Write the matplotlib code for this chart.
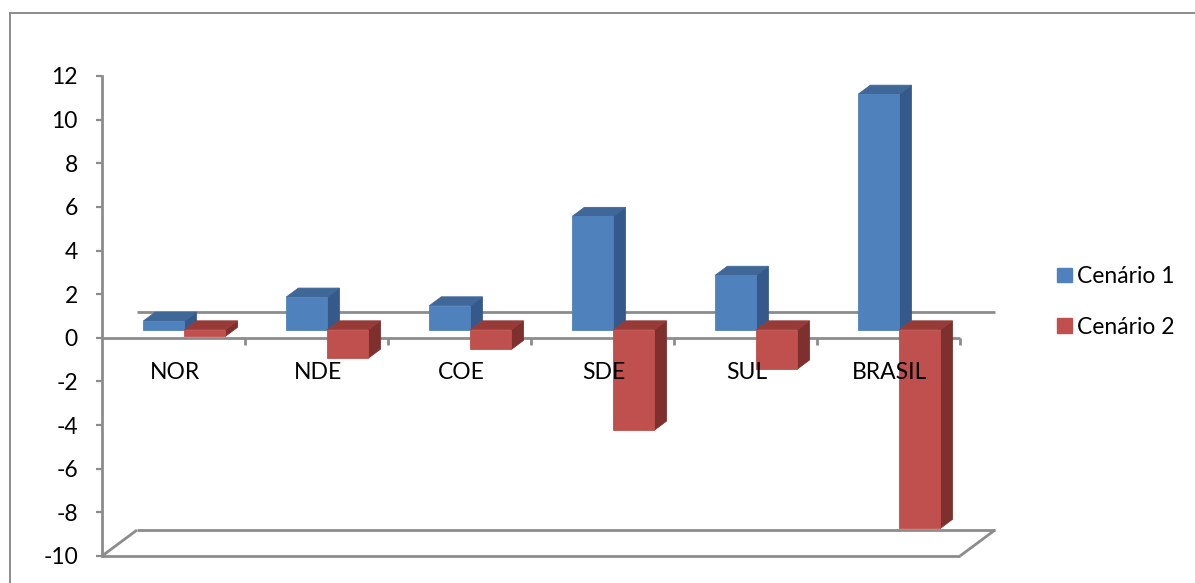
import matplotlib
matplotlib.use("Agg")
import matplotlib.pyplot as plt
from matplotlib.patches import Polygon, Patch
from matplotlib.lines import Line2D

plt.rcParams['font.family'] = ['Lato', 'DejaVu Sans']

categories = ["NOR", "NDE", "COE", "SDE", "SUL", "BRASIL"]
cenario1 = [0.4, 1.5, 1.1, 5.2, 2.5, 10.8]
cenario2 = [-0.3, -1.3, -0.9, -4.6, -1.8, -9.1]
series_names = ["Cenário 1", "Cenário 2"]
yticks = list(range(-10, 13, 2))

W, H = 1195, 583
fig = plt.figure(figsize=(W / 100, H / 100), dpi=100)
fig.patch.set_facecolor("white")

# front plane of the 3D box
ax = fig.add_axes([102 / W, (H - 556) / H, 858 / W, 480 / H])
n = len(categories)
ax.set_xlim(0, n)
ax.set_ylim(-10, 12)
ax.set_facecolor("none")

grey = "#8c8c8c"
fs = 16.5
for s in ["top", "right", "bottom"]:
    ax.spines[s].set_visible(False)
ax.spines["left"].set_color(grey)
ax.spines["left"].set_linewidth(2.0)
ax.set_xticks([])
ax.set_yticks(yticks)
ax.set_yticklabels([str(t) for t in yticks], fontsize=fs, color="black")
ax.tick_params(axis="y", direction="out", length=4.3, width=1.6, color=grey, pad=13)

# depth offsets (data units)
px_x = n / 858.0
px_y = 22.0 / 480.0
DX = 35 * px_x
DY = 26 * px_y
f0, f1 = 0.308, 0.654
a, b = f0 * DX, f0 * DY
c, d = f1 * DX, f1 * DY

lw = 2.0
kw = dict(color=grey, lw=lw, clip_on=False, solid_capstyle="butt", zorder=1)
# floor at -10
ymin = -10
ax.plot([0, n], [ymin, ymin], **kw)
ax.plot([DX, n + DX], [ymin + DY, ymin + DY], **kw)
ax.plot([0, DX], [ymin, ymin + DY], **kw)
ax.plot([n, n + DX], [ymin, ymin + DY], **kw)
# zero lines (front and back)
ax.plot([DX, n + DX], [DY, DY], **kw)
ax.plot([0, n], [0, 0], **kw)
for k in range(1, n + 1):
    ax.plot([k, k], [0, -0.33], **kw)

colors = {
    0: ("#4F81BD", "#3F6898", "#35598A"),
    1: ("#C0504D", "#973B39", "#7D302E"),
}

bw = 0.287
z = 3
for i in range(n):
    for s, vals in enumerate([cenario1, cenario2]):
        v = vals[i]
        x0 = i + 0.5 - bw if s == 0 else i + 0.5
        x1 = x0 + bw
        top, bot = max(v, 0), min(v, 0)
        front_c, top_c, side_c = colors[s]
        front = [(x0 + a, bot + b), (x1 + a, bot + b), (x1 + a, top + b), (x0 + a, top + b)]
        topf = [(x0 + a, top + b), (x1 + a, top + b), (x1 + c, top + d), (x0 + c, top + d)]
        side = [(x1 + a, bot + b), (x1 + c, bot + d), (x1 + c, top + d), (x1 + a, top + b)]
        for poly, col in [(side, side_c), (topf, top_c), (front, front_c)]:
            ax.add_patch(Polygon(poly, closed=True, facecolor=col, edgecolor=col,
                                 lw=0.6, clip_on=False, zorder=z))
            z += 1

for i, cat in enumerate(categories):
    ax.text(i + 0.5 + 0.01, -1.6, cat, ha="center", va="center", fontsize=fs,
            color="black", clip_on=False, zorder=z + 1)

handles = [Patch(facecolor=colors[0][0], edgecolor=colors[0][0]),
           Patch(facecolor=colors[1][0], edgecolor=colors[1][0])]
fig.legend(handles, series_names, loc="center left",
           bbox_to_anchor=(1046 / W, 1 - 302 / H), frameon=False, fontsize=fs,
           handlelength=0.62, handleheight=0.62, handletextpad=0.25,
           labelspacing=1.3, borderpad=0.0)

# outer chart border
fig.add_artist(Line2D([10 / W, 10 / W], [0, 1 - 13 / H], color=grey, lw=1.4))
fig.add_artist(Line2D([10 / W, 1], [1 - 13 / H, 1 - 13 / H], color=grey, lw=1.4))

fig.savefig("out.png", dpi=100, facecolor="white")
